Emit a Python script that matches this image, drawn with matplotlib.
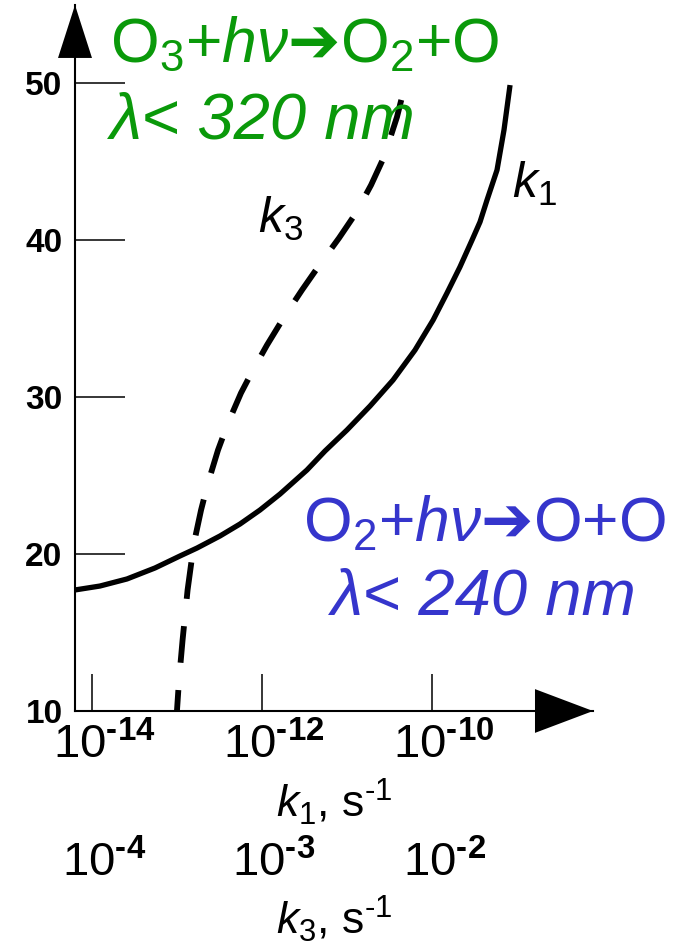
import numpy as np
import matplotlib
matplotlib.use("Agg")
import matplotlib.pyplot as plt
from matplotlib.patches import Polygon
from matplotlib.ticker import NullLocator
from matplotlib.transforms import ScaledTranslation

plt.rcParams.update({
    "font.family": ["Liberation Sans", "DejaVu Sans"],
    "mathtext.fontset": "custom",
    "mathtext.rm": "Liberation Sans",
    "mathtext.it": "Liberation Sans:italic",
    "mathtext.bf": "Liberation Sans:bold",
    "mathtext.sf": "DejaVu Sans:bold",
})

# --- data ------------------------------------------------------------------

# O2 photolysis rate k1 (s^-1) vs altitude (km)
K1 = [6.31e-15, 1.24e-14, 2.58e-14, 5.51e-14, 1.08e-13, 1.72e-13, 3.21e-13,
      5.51e-13, 9.46e-13, 1.63e-12, 3.38e-12, 5.51e-12, 1.00e-11, 1.87e-11,
      3.48e-11, 6.31e-11, 1.03e-10, 1.50e-10, 2.13e-10, 2.96e-10, 3.67e-10,
      4.44e-10, 5.82e-10, 7.03e-10, 8.28e-10]
ALT_K1 = [17.71, 17.96, 18.41, 19.11, 19.87, 20.38, 21.15, 21.91, 22.80,
          23.82, 25.35, 26.56, 27.90, 29.43, 31.08, 32.99, 34.90, 36.62,
          38.28, 40.00, 41.15, 42.55, 44.46, 47.01, 49.87]

# O3 photolysis rate k3 (s^-1) vs altitude (km)
K3 = [3.16e-4, 3.25e-4, 3.41e-4, 3.65e-4, 3.98e-4, 4.38e-4, 4.81e-4,
      5.51e-4, 6.31e-4, 7.52e-4, 8.85e-4, 1.07e-3, 1.35e-3, 1.72e-3,
      2.22e-3, 2.84e-3, 3.57e-3, 4.38e-3, 5.22e-3, 6.22e-3, 7.13e-3]
ALT_K3 = [10.0, 11.97, 14.52, 17.71, 20.70, 22.80, 24.52, 26.62, 28.34,
          30.25, 31.72, 33.31, 35.10, 36.82, 38.54, 40.13, 41.72, 43.50,
          45.29, 47.83, 50.38]

Y_TICKS = [10, 20, 30, 40, 50]
K1_TICKS = [1e-14, 1e-12, 1e-10]
K1_LABELS = [r"$10^{\mathbf{‐14}}$", r"$10^{\mathbf{‐12}}$", r"$10^{\mathbf{‐10}}$"]
K3_TICKS = [1e-4, 1e-3, 1e-2]
K3_LABELS = [r"$10^{\mathbf{‐4}}$", r"$10^{\mathbf{‐3}}$", r"$10^{\mathbf{‐2}}$"]

GREEN = "#0a990a"
BLUE = "#3535cc"


def k1_to_k3(k1):
    return 1e3 * np.sqrt(k1)


def k3_to_k1(k3):
    return (np.asarray(k3) / 1e3) ** 2


# --- figure -----------------------------------------------------------------

fig = plt.figure(figsize=(6.91, 9.46), dpi=100)
ax = fig.add_axes([75 / 691, 235 / 946, 518 / 691, 706 / 946])

ax.plot(K1, ALT_K1, color="black", lw=3.8, solid_capstyle="butt")
ax.plot(k3_to_k1(K3), ALT_K3, color="black", lw=4.2,
        linestyle=(2.7, (6.3, 4.7)))

ax.set_xscale("log")
ax.set_xlim(10 ** -14.2, 10 ** -8.106)
ax.set_ylim(10, 54.97)

for side in ("top", "right"):
    ax.spines[side].set_visible(False)
for side in ("left", "bottom"):
    ax.spines[side].set_linewidth(1.5)

ax.set_yticks(Y_TICKS)
ax.tick_params(axis="y", direction="in", length=36, width=1.1, pad=9,
               labelsize=24)
for lbl in ax.get_yticklabels():
    lbl.set_fontweight("bold")

ax.set_xticks(K1_TICKS, labels=K1_LABELS)
ax.xaxis.set_minor_locator(NullLocator())
ax.tick_params(axis="x", direction="in", length=27, width=1.1, pad=9,
               labelsize=34)
shift = ScaledTranslation(0.12, 0, fig.dpi_scale_trans)
for lbl in ax.get_xticklabels():
    lbl.set_transform(lbl.get_transform() + shift)
ax.set_xlabel(r"$k_1$, s$^{‐1}$", fontsize=32, labelpad=6)

sec = ax.secondary_xaxis(-0.171, functions=(k1_to_k3, k3_to_k1))
sec.set_xticks(K3_TICKS, labels=K3_LABELS)
sec.xaxis.set_minor_locator(NullLocator())
sec.spines["bottom"].set_visible(False)
sec.tick_params(axis="x", length=0, pad=7, labelsize=34)
for lbl in sec.get_xticklabels():
    lbl.set_transform(lbl.get_transform() + shift)
sec.set_xlabel(r"$k_3$, s$^{‐1}$", fontsize=32, labelpad=5)

# axis arrows
ax.add_patch(Polygon([(0, 1.0), (-0.0328, 0.925), (0.0328, 0.925)],
                     closed=True, transform=ax.transAxes, clip_on=False,
                     facecolor="black", edgecolor="none"))
ax.add_patch(Polygon([(1.0, 0), (0.888, -0.031), (0.888, 0.031)],
                     closed=True, transform=ax.transAxes, clip_on=False,
                     facecolor="black", edgecolor="none"))

# annotations
ax.text(0.0676, 0.919,
        r"$\mathrm{O_3{+}}\mathit{h\nu}\mathsf{➔}\mathrm{O_2{+}O}$",
        transform=ax.transAxes, color=GREEN, fontsize=45, va="baseline",
        ha="left")
ax.text(0.0676, 0.8116, "λ< 320 nm", transform=ax.transAxes, color=GREEN,
        fontsize=47, style="italic", va="baseline", ha="left")
ax.text(0.79, 0.2408,
        r"$\mathrm{O_2{+}}\mathit{h\nu}\mathsf{➔}\mathrm{O{+}O}$",
        transform=ax.transAxes, color=BLUE, fontsize=45, va="baseline",
        ha="center")
ax.text(0.79, 0.136, "λ< 240 nm", transform=ax.transAxes, color=BLUE,
        fontsize=47, style="italic", va="baseline", ha="center")

ax.text(0.353, 0.677, r"$k_3$", transform=ax.transAxes, fontsize=36,
        va="baseline", ha="left")
ax.text(0.8436, 0.7266, r"$k_1$", transform=ax.transAxes, fontsize=36,
        va="baseline", ha="left")

fig.savefig("out.png", dpi=100)
